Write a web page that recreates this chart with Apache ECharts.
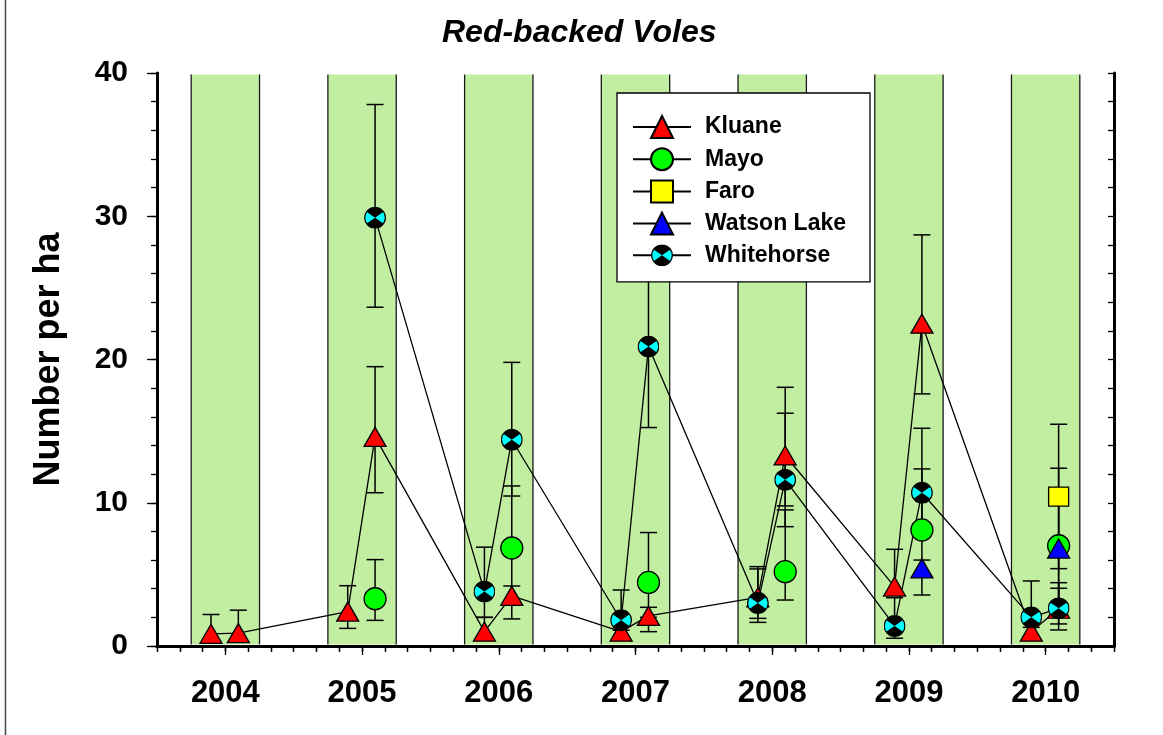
<!DOCTYPE html>
<html><head><meta charset="utf-8">
<script src="https://cdn.jsdelivr.net/npm/echarts@6/dist/echarts.min.js"></script>
<style>html,body{margin:0;padding:0;background:#fff}#chart{width:1163px;height:735px}</style>
</head><body><div id="chart"></div>
<script>
// ---------------- data ----------------
const years = [2004, 2005, 2006, 2007, 2008, 2009, 2010];
const yearLabels = ['2004', '2005', '2006', '2007', '2008', '2009', '2010'];
// each year has a spring sample then a fall sample
const sampleYear   = [2004, 2004, 2005, 2005, 2006, 2006, 2007, 2007, 2008, 2008, 2009, 2009, 2010, 2010];
const sampleSeason = ['spring', 'fall', 'spring', 'fall', 'spring', 'fall', 'spring', 'fall', 'spring', 'fall', 'spring', 'fall', 'spring', 'fall'];

const kluane         = [0.85, 0.9, 2.4, 14.6, 1.0, 3.5, 1.0, 2.1, 3.4, 13.3, 4.15, 22.5, 1.0, 2.6];
const kluaneLow      = [0.4, 0.4, 1.23, 10.7, 0.5, 3.0, 0.5, 1.0, 1.65, 8.33, 3.56, 17.6, 0.5, 1.54];
const kluaneHigh     = [2.2, 2.5, 4.21, 19.5, 2.0, 4.19, 1.8, 2.7, 5.38, 18.06, 6.75, 28.7, 1.9, 4.42];

const mayo           = [null, null, null, 3.3, null, 6.84, null, 4.44, null, 5.19, null, 8.1, null, 7.0];
const mayoLow        = [null, null, null, 1.79, null, 1.89, null, 2.0, null, 3.21, null, 3.56, null, 2.0];
const mayoHigh       = [null, null, null, 6.03, null, 11.17, null, 7.92, null, 9.5, null, 12.36, null, 12.41];

const faro           = [null, null, null, null, null, null, null, null, null, null, null, null, null, 10.43];
const faroLow        = [null, null, null, null, null, null, null, null, null, null, null, null, null, 5.4];
const faroHigh       = [null, null, null, null, null, null, null, null, null, null, null, null, null, 15.48];

const watson         = [null, null, null, null, null, null, null, null, null, null, null, 5.42, null, 6.8];
const watsonLow      = [null, null, null, null, null, null, null, null, null, null, null, 4.9, null, 2.75];
const watsonHigh     = [null, null, null, null, null, null, null, null, null, null, null, 6.0, null, 10.75];

const whitehorse     = [null, null, null, 29.9, 3.8, 14.4, 1.8, 20.9, 3.0, 11.6, 1.4, 10.7, 2.0, 2.63];
const whitehorseLow  = [null, null, null, 23.65, 2.0, 10.47, 1.1, 15.25, 1.93, 9.78, 0.54, 8.57, 1.3, 1.12];
const whitehorseHigh = [null, null, null, 37.8, 6.9, 19.8, 3.91, 26.6, 5.54, 16.25, 3.37, 15.2, 4.54, 4.03];

// ---------------- layout / style ----------------
const seasonOffset = { spring: -0.105, fall: 0.095 };
const bandHalf = 0.25;
const sampleX = sampleYear.map((y, i) => y + seasonOffset[sampleSeason[i]]);
const minorTicks = [];
for (let i = 0; i <= 42; i++) minorTicks.push(2003.5 + i / 6);

const FONT = '"Liberation Sans", Arial, sans-serif';

const whSvg = "<svg xmlns='http://www.w3.org/2000/svg' width='48' height='48' viewBox='0 0 48 48'>" +
  "<circle cx='24' cy='24' r='22.5' fill='#000'/>" +
  "<path d='M24,24 L42.4,11.1 A22.5,22.5 0 0 1 42.4,36.9 Z M24,24 L5.6,36.9 A22.5,22.5 0 0 1 5.6,11.1 Z' fill='#00ffff'/>" +
  "<circle cx='24' cy='24' r='22.5' fill='none' stroke='#000' stroke-width='2.6'/></svg>";
const whSymbol = 'image://data:image/svg+xml;charset=utf-8,' + encodeURIComponent(whSvg);

function lineData(vals) {
  return sampleX.map((x, i) => [x, vals[i] == null ? '-' : vals[i]]);
}
function errData(vals, lo, hi) {
  const d = [];
  vals.forEach((v, i) => { if (v != null && lo[i] != null) d.push([sampleX[i], lo[i], hi[i]]); });
  return d;
}
function errSeries(id, vals, lo, hi) {
  return {
    type: 'custom', name: id + ' err', silent: true, z: 2,
    data: errData(vals, lo, hi),
    encode: { x: 0, y: [1, 2] },
    renderItem(params, api) {
      const x = api.value(0);
      const a = api.coord([x, api.value(1)]);
      const b = api.coord([x, api.value(2)]);
      const hw = 8.5;
      const st = { stroke: '#000', lineWidth: 1.5 };
      return { type: 'group', children: [
        { type: 'line', shape: { x1: a[0], y1: a[1], x2: b[0], y2: b[1] }, style: st },
        { type: 'line', shape: { x1: a[0] - hw, y1: a[1], x2: a[0] + hw, y2: a[1] }, style: st },
        { type: 'line', shape: { x1: b[0] - hw, y1: b[1], x2: b[0] + hw, y2: b[1] }, style: st }
      ] };
    }
  };
}
function lineSeries(name, vals, symbol, size, color) {
  return {
    type: 'line', name, data: lineData(vals), symbol, symbolSize: size,
    showAllSymbol: true, connectNulls: false, z: 2,
    itemStyle: { color, borderColor: '#000', borderWidth: 1.3 },
    lineStyle: { color: '#000', width: 1.3 },
    emphasis: { disabled: true }
  };
}

const bandSeries = {
  type: 'custom', silent: true, z: 1,
  data: years.map(y => [y]),
  encode: { x: 0 },
  renderItem(params, api) {
    const cs = params.coordSys;
    const y = api.value(0);
    const xa = api.coord([y - bandHalf, 0])[0];
    const xb = api.coord([y + bandHalf, 0])[0];
    const top = cs.y + 1.5, h = cs.height - 3;
    const st = { stroke: '#1a1a1a', lineWidth: 1.3 };
    return { type: 'group', children: [
      { type: 'rect', shape: { x: xa, y: top, width: xb - xa, height: h }, style: { fill: '#c2eea2' } },
      { type: 'line', shape: { x1: xa, y1: top, x2: xa, y2: top + h }, style: st },
      { type: 'line', shape: { x1: xb, y1: top, x2: xb, y2: top + h }, style: st }
    ] };
  }
};

const axisCommon = { type: 'value', min: 2003.5, max: 2010.5, splitLine: { show: false } };
const option = {
  animation: false,
  textStyle: { fontFamily: FONT },
  title: {
    text: 'Red-backed Voles', left: 437, top: 12,
    textStyle: { fontFamily: FONT, fontSize: 32, fontWeight: 'bold', fontStyle: 'italic', color: '#000' }
  },
  grid: { left: 157, top: 73, width: 957, height: 573 },
  legend: {
    data: ['Kluane', 'Mayo', 'Faro', 'Watson Lake', 'Whitehorse'],
    orient: 'vertical', left: 617, top: 93,
    padding: [22, 24, 15, 15],
    itemWidth: 58, itemHeight: 27.5, itemGap: 8.2,
    backgroundColor: '#fff', borderColor: '#000', borderWidth: 1.3, borderRadius: 0,
    selectedMode: false,
    textStyle: { fontFamily: FONT, fontSize: 23, fontWeight: 'bold', color: '#000', padding: [0, 0, 0, 9] }
  },
  xAxis: [
    Object.assign({}, axisCommon, {
      position: 'bottom',
      axisLine: { show: true, lineStyle: { color: '#000', width: 3 } },
      axisTick: { show: true, customValues: years, length: 9, lineStyle: { color: '#000', width: 1.3 } },
      axisLabel: { show: true, customValues: years, margin: 32,
        formatter: v => yearLabels[years.indexOf(Math.round(v))] || '',
        fontFamily: FONT, fontSize: 31, fontWeight: 'bold', color: '#000' }
    }),
    Object.assign({}, axisCommon, {
      position: 'bottom',
      axisLine: { show: false },
      axisTick: { show: true, customValues: minorTicks, length: 5, lineStyle: { color: '#000', width: 1.3 } },
      axisLabel: { show: false }
    }),
    Object.assign({}, axisCommon, {
      position: 'top',
      axisLine: { show: true, lineStyle: { color: '#000', width: 3 } },
      axisTick: { show: true, inside: true, customValues: minorTicks, length: 6, lineStyle: { color: '#000', width: 1.3 } },
      axisLabel: { show: false }
    })
  ],
  yAxis: [
    {
      type: 'value', min: 0, max: 40, interval: 10, position: 'left',
      name: 'Number per ha', nameLocation: 'middle', nameGap: 90, nameRotate: 90,
      nameTextStyle: { fontFamily: FONT, fontSize: 36, fontWeight: 'bold', color: '#000' },
      axisLine: { show: true, lineStyle: { color: '#000', width: 3 } },
      axisTick: { show: true, length: 10, lineStyle: { color: '#000', width: 1.3 } },
      axisLabel: { margin: 29, fontFamily: FONT, fontSize: 30, fontWeight: 'bold', color: '#000' },
      splitLine: { show: false }
    },
    {
      type: 'value', min: 0, max: 40, interval: 2, position: 'left',
      axisLine: { show: false },
      axisTick: { show: true, length: 6, lineStyle: { color: '#000', width: 1.3 } },
      axisLabel: { show: false }, splitLine: { show: false }
    },
    {
      type: 'value', min: 0, max: 40, interval: 2, position: 'right',
      axisLine: { show: true, lineStyle: { color: '#000', width: 3 } },
      axisTick: { show: true, inside: true, length: 6, lineStyle: { color: '#000', width: 1.3 } },
      axisLabel: { show: false }, splitLine: { show: false }
    }
  ],
  graphic: [{
    type: 'line', shape: { x1: 5.5, y1: 0, x2: 5.5, y2: 735 }, style: { stroke: '#444', lineWidth: 1.5 }, silent: true
  }],
  series: [
    bandSeries,
    errSeries('Kluane', kluane, kluaneLow, kluaneHigh),
    lineSeries('Kluane', kluane, 'triangle', [22, 19], '#ff0000'),
    errSeries('Mayo', mayo, mayoLow, mayoHigh),
    lineSeries('Mayo', mayo, 'circle', 22, '#00ff00'),
    errSeries('Faro', faro, faroLow, faroHigh),
    lineSeries('Faro', faro, 'rect', [20, 19], '#ffff00'),
    errSeries('Watson Lake', watson, watsonLow, watsonHigh),
    lineSeries('Watson Lake', watson, 'triangle', [22, 19], '#0000ff'),
    errSeries('Whitehorse', whitehorse, whitehorseLow, whitehorseHigh),
    lineSeries('Whitehorse', whitehorse, whSymbol, 22, '#00ffff')
  ]
};
const chart = echarts.init(document.getElementById('chart'), null, { renderer: 'canvas' });
chart.setOption(option);
</script>
</body></html>
